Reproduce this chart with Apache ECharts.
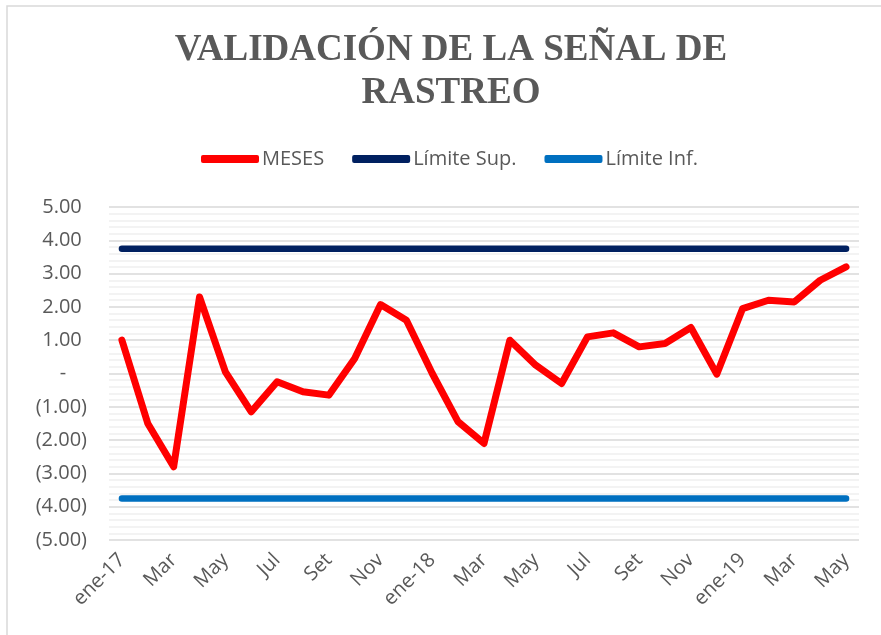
<!DOCTYPE html>
<html>
<head>
<meta charset="utf-8">
<script src="https://cdn.jsdelivr.net/npm/echarts@6/dist/echarts.min.js"></script>
<style>
  html, body { margin: 0; padding: 0; background: #fff; }
  #main { width: 881px; height: 635px; }
</style>
</head>
<body>
<div id="main"></div>
<script>
var meses = ['ene-17', 'Feb', 'Mar', 'Abr', 'May', 'Jun', 'Jul', 'Ago', 'Set', 'Oct', 'Nov', 'Dic',
  'ene-18', 'Feb', 'Mar', 'Abr', 'May', 'Jun', 'Jul', 'Ago', 'Set', 'Oct', 'Nov', 'Dic',
  'ene-19', 'Feb', 'Mar', 'Abr', 'May'];

var senal = [1.0, -1.5, -2.8, 2.3, 0.05, -1.15, -0.25, -0.55, -0.65, 0.45, 2.07, 1.6,
  0.0, -1.45, -2.1, 1.0, 0.25, -0.3, 1.1, 1.22, 0.8, 0.9, 1.38, -0.02,
  1.95, 2.2, 2.15, 2.8, 3.2];

var limiteSup = meses.map(function () { return 3.75; });
var limiteInf = meses.map(function () { return -3.75; });

var chart = echarts.init(document.getElementById('main'), null, { renderer: 'canvas' });

// formato contable: 1.00 / - / (1.00)
function fmt(v) {
  if (Math.abs(v) < 1e-9) return '-    ';
  if (v < 0) return '(' + Math.abs(v).toFixed(2) + ')';
  return v.toFixed(2) + ' ';
}

var option = {
  backgroundColor: '#fff',
  graphic: [{
    type: 'rect',
    shape: { x: 7, y: 6, width: 880, height: 640 },
    style: { fill: 'none', stroke: '#d9d9d9', lineWidth: 1.5 },
    silent: true
  }],
  title: {
    text: 'VALIDACIÓN DE LA SEÑAL DE\nRASTREO',
    left: 446,
    textAlign: 'center',
    top: 24,
    textStyle: {
      fontFamily: 'Liberation Serif',
      fontWeight: 'bold',
      fontSize: 37,
      lineHeight: 43,
      color: '#595959'
    }
  },
  legend: {
    top: 144,
    left: 196,
    itemWidth: 58,
    itemHeight: 8,
    itemGap: 28,
    textStyle: { fontFamily: 'Open Sans', fontSize: 20, color: '#595959', padding: [0, 0, 0, -2] },
    data: [
      { name: 'MESES', icon: 'roundRect' },
      { name: 'Límite Sup.', icon: 'roundRect' },
      { name: 'Límite Inf.', icon: 'roundRect' }
    ]
  },
  grid: { left: 109, right: 22, top: 207, bottom: 95, containLabel: false },
  xAxis: {
    type: 'category',
    data: meses,
    boundaryGap: true,
    axisLine: { show: false },
    axisTick: { show: false },
    axisLabel: {
      interval: 1,
      rotate: 45,
      margin: 17,
      fontFamily: 'Open Sans',
      fontSize: 20,
      color: '#595959'
    }
  },
  yAxis: {
    type: 'value',
    min: -5,
    max: 5,
    interval: 1,
    axisLine: { show: false },
    axisTick: { show: false },
    axisLabel: {
      formatter: fmt,
      margin: 22,
      fontFamily: 'Open Sans',
      fontSize: 20,
      color: '#595959'
    },
    splitLine: { lineStyle: { color: '#d9d9d9', width: 1.5 } },
    minorTick: { show: false, splitNumber: 5 },
    minorSplitLine: { show: true, lineStyle: { color: '#efefef', width: 1.5 } }
  },
  series: [
    {
      name: 'MESES',
      type: 'line',
      data: senal,
      showSymbol: false,
      lineStyle: { color: '#ff0000', width: 7, cap: 'round', join: 'round' },
      itemStyle: { color: '#ff0000' },
      z: 3
    },
    {
      name: 'Límite Sup.',
      type: 'line',
      data: limiteSup,
      showSymbol: false,
      lineStyle: { color: '#002060', width: 6.5, cap: 'round' },
      itemStyle: { color: '#002060' }
    },
    {
      name: 'Límite Inf.',
      type: 'line',
      data: limiteInf,
      showSymbol: false,
      lineStyle: { color: '#0070c0', width: 6.5, cap: 'round' },
      itemStyle: { color: '#0070c0' }
    }
  ]
};

chart.setOption(option);
</script>
</body>
</html>
